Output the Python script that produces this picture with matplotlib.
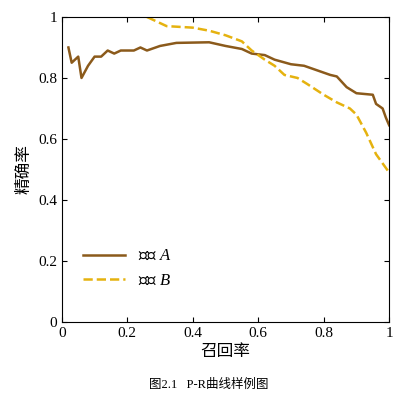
import matplotlib
matplotlib.use("Agg")
import matplotlib.pyplot as plt

plt.rcParams['font.family'] = ['Liberation Serif', 'Noto Sans CJK SC']
plt.rcParams['mathtext.fontset'] = 'custom'
plt.rcParams['mathtext.rm'] = 'Noto Sans CJK SC'
plt.rcParams['mathtext.it'] = 'Liberation Serif:italic'

recall_a = [0.02,0.03,0.05,0.06,0.08,0.10,0.12,0.14,0.16,0.18,0.22,0.24,0.26,0.30,0.35,0.45,0.50,0.55,0.58,0.62,0.65,0.70,0.74,0.78,0.82,0.84,0.87,0.90,0.95,0.96,0.98,0.99,1.00]
prec_a = [0.90,0.85,0.87,0.80,0.84,0.87,0.87,0.89,0.88,0.89,0.89,0.90,0.89,0.905,0.915,0.917,0.905,0.895,0.88,0.875,0.86,0.845,0.84,0.825,0.81,0.805,0.77,0.75,0.745,0.715,0.70,0.67,0.645]
recall_b = [0.26,0.30,0.32,0.40,0.45,0.50,0.55,0.58,0.62,0.65,0.68,0.72,0.75,0.80,0.84,0.88,0.90,0.93,0.96,0.98,1.00]
prec_b = [1.00,0.98,0.97,0.965,0.955,0.94,0.92,0.89,0.86,0.84,0.81,0.80,0.78,0.745,0.72,0.70,0.68,0.62,0.55,0.52,0.49]
ticks = [0, 0.2, 0.4, 0.6, 0.8, 1]
tick_labels = ['0', '0.2', '0.4', '0.6', '0.8', '1']

fig = plt.figure(figsize=(4.18, 4.04), dpi=100)
ax = fig.add_axes([0.148, 0.203, 0.783, 0.755])
ax.plot(recall_a, prec_a, color='#8B5A1B', lw=1.8, label='模型 $A$')
ax.plot(recall_b, prec_b, color='#E5B20F', lw=1.8, ls='--', label='模型 $B$')
ax.set_xlim(0, 1); ax.set_ylim(0, 1)
ax.set_xticks(ticks, tick_labels); ax.set_yticks(ticks, tick_labels)
ax.tick_params(direction='in', labelsize=11, top=True, right=True)
ax.set_xlabel('召回率', fontsize=12, labelpad=2, family=['Noto Sans CJK SC'])
ax.set_ylabel('精确率', fontsize=12, labelpad=4, family=['Noto Sans CJK SC'])
ax.legend(loc='lower left', bbox_to_anchor=(0.02, 0.06), frameon=False, fontsize=12, handlelength=2.5)
fig.text(0.5, 0.04, '图2.1   P-R曲线样例图', ha='center', fontsize=9)
fig.savefig('out.png', dpi=100)
